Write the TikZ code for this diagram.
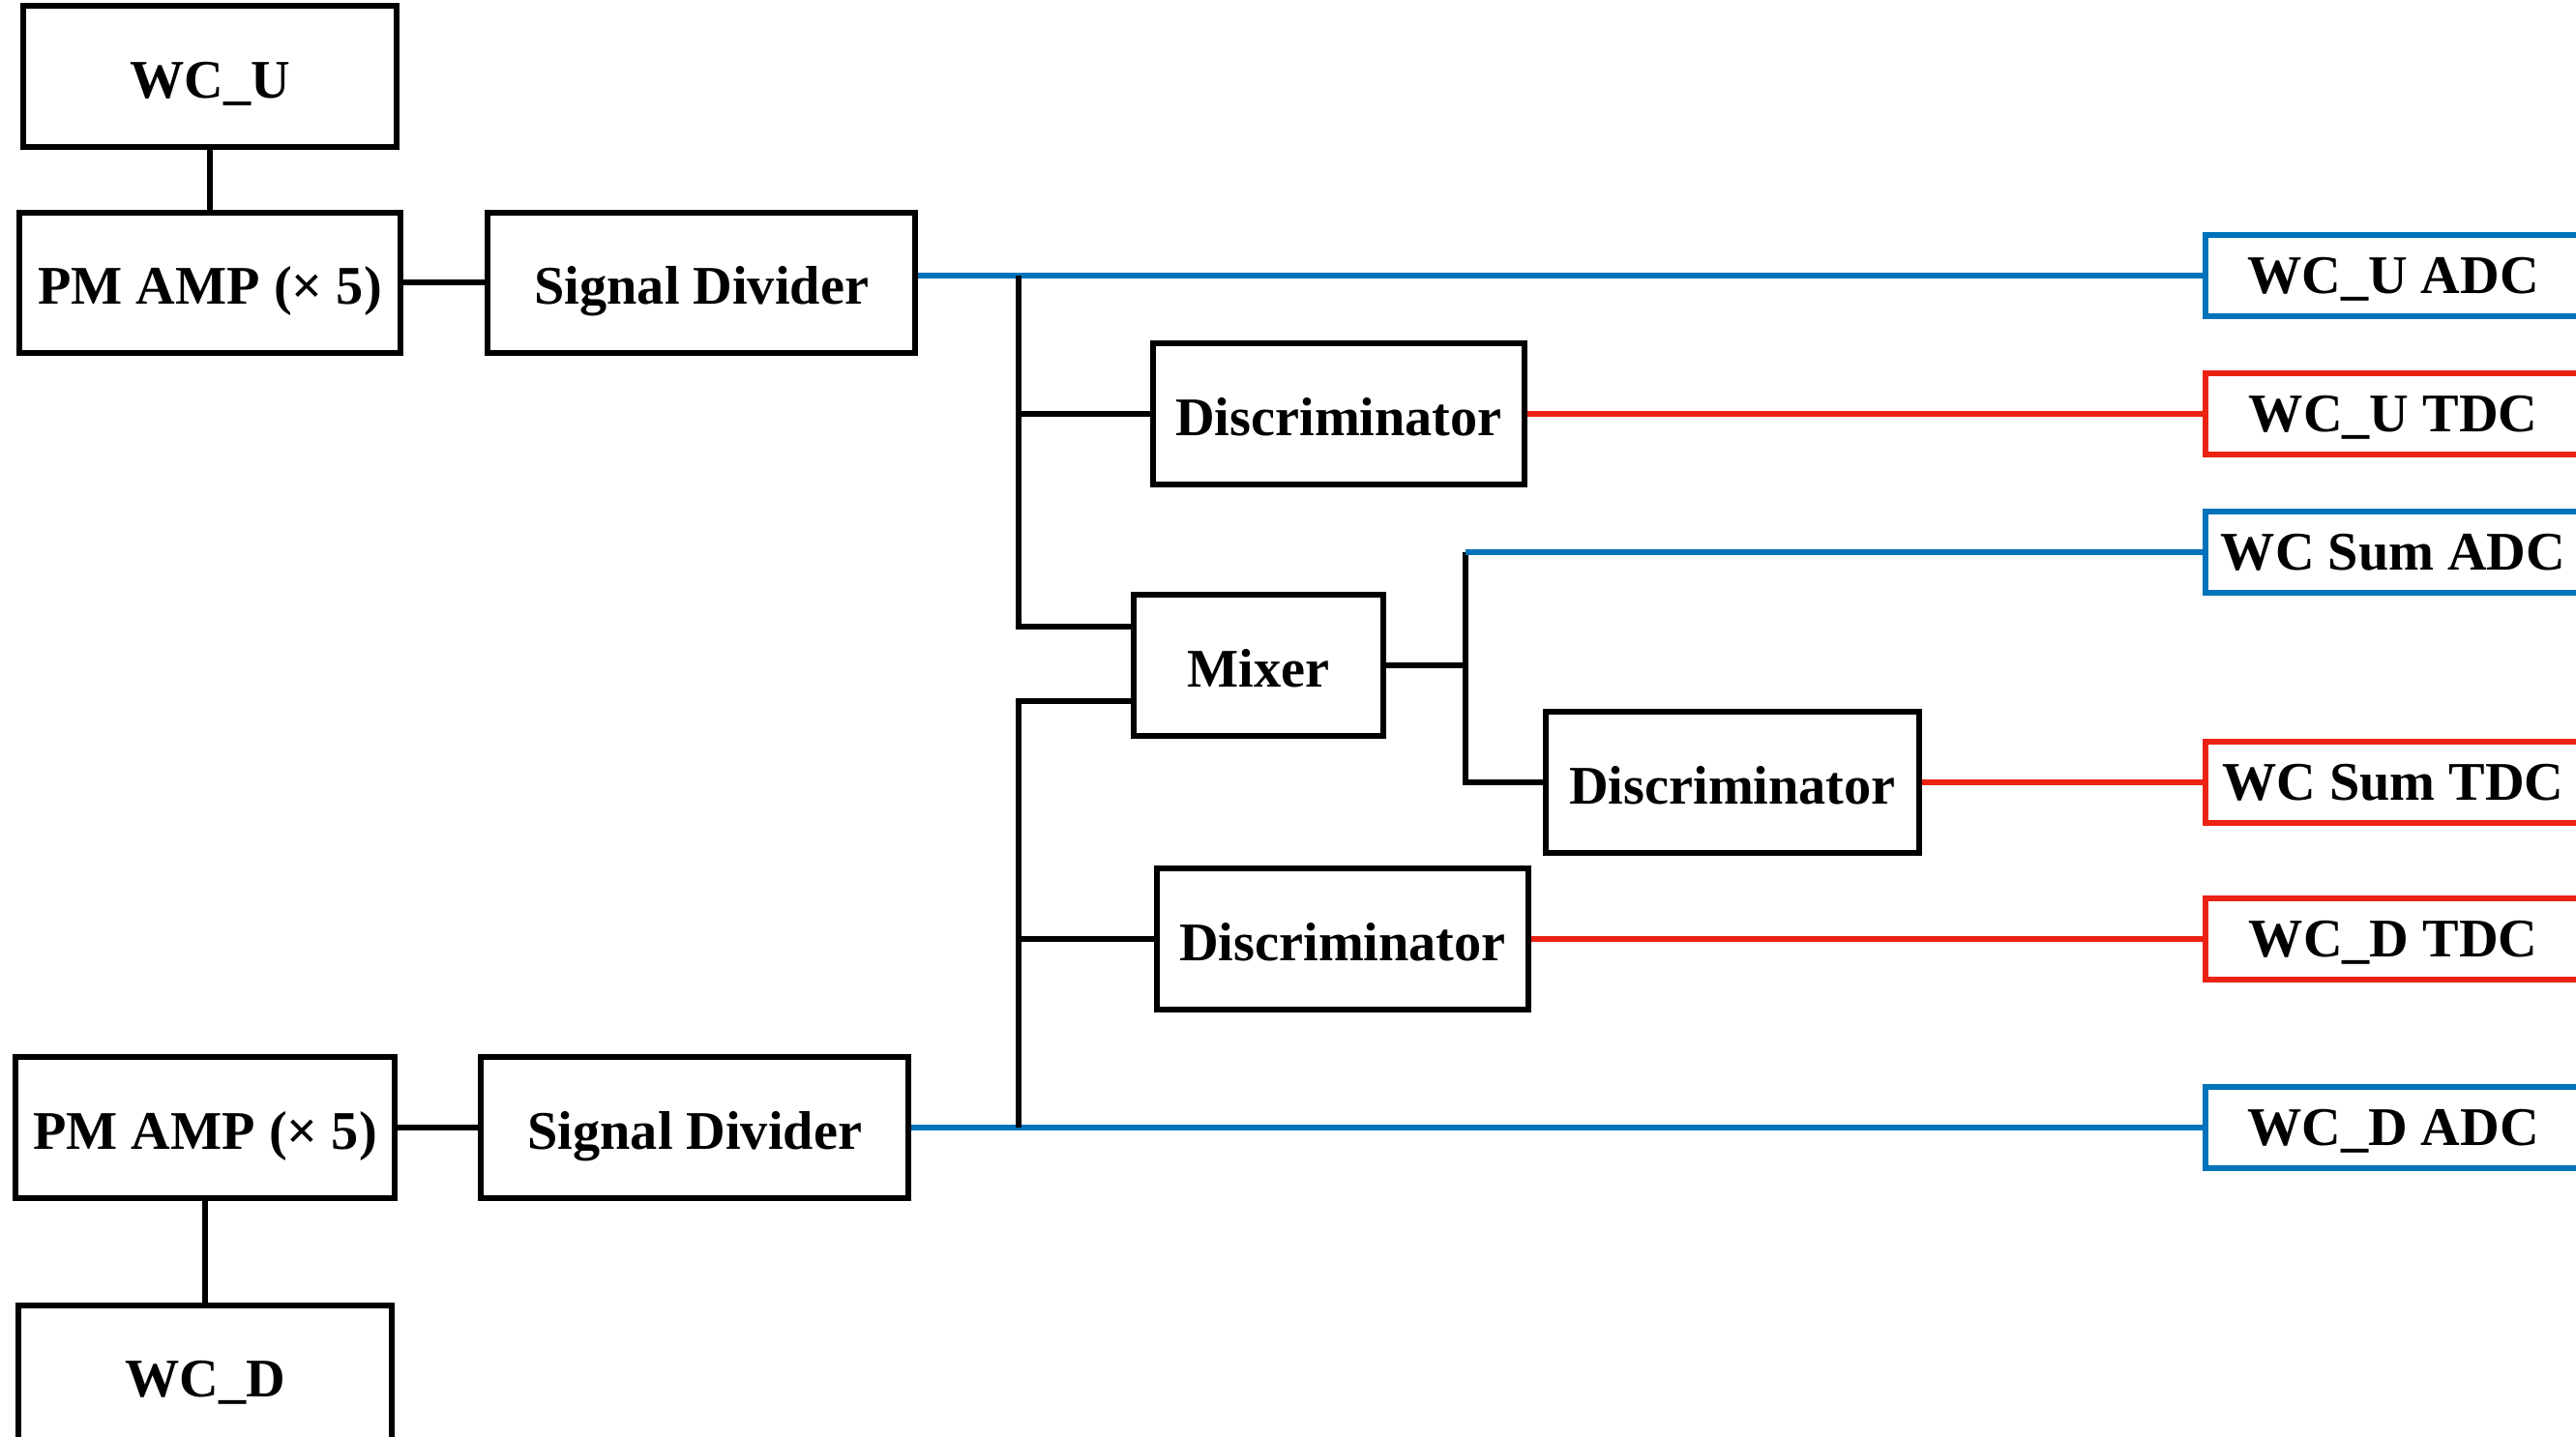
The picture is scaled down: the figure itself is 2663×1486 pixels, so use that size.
\documentclass[tikz,border=0pt]{standalone}
\usepackage{fontspec}
\setmainfont{Liberation Serif}
\usetikzlibrary{positioning}
\definecolor{wcblue}{RGB}{0,115,187}
\definecolor{wcred}{RGB}{236,34,20}

\begin{document}
\begin{tikzpicture}[x=0.01cm, y=-0.01cm,
    block/.style={draw=black, line width=1.7pt, inner sep=0pt, minimum width=3.85cm, minimum height=1.45cm, text height=12.6pt, text depth=0pt, font=\fontsize{16}{19}\selectfont\bfseries},
    divider/.style={block, minimum width=4.42cm},
    adcbox/.style={draw=wcblue, line width=1.7pt, inner sep=0pt, minimum width=3.88cm, minimum height=0.83cm, text height=10.8pt, text depth=0pt, font=\fontsize{16}{19}\selectfont\bfseries},
    tdcbox/.style={adcbox, draw=wcred},
    kline/.style={draw=black, line width=1.7pt},
    bline/.style={draw=wcblue, line width=1.7pt},
    rline/.style={draw=wcred, line width=1.7pt}]
    \useasboundingbox (0,0) rectangle (2663,1486);

    %Nodes
    \node[block](wcu) at (217,79) {WC\_U};
    \node[block, minimum width=3.94cm](pmu)[below=0.62cm of wcu]{PM AMP (× 5)};
    \node[divider](sdu)[right=0.84cm of pmu]{Signal Divider};
    \node[block, minimum width=3.92cm](pmd) at (212,1166) {PM AMP (× 5)};
    \node[block](wcd)[below=1.05cm of pmd]{WC\_D};
    \node[divider](sdd)[right=0.83cm of pmd]{Signal Divider};
    \node[block, minimum width=3.83cm](disc1) at (1384,428) {Discriminator};
    \node[block, minimum width=2.58cm](mixer) at (1301,688) {Mixer};
    \node[block](disc2) at (1791,809) {Discriminator};
    \node[block, minimum width=3.83cm](disc3) at (1388,971) {Discriminator};
    \node[adcbox](wcuadc) at (2474,285) {WC\_U ADC};
    \node[tdcbox](wcutdc) at (2474,428) {WC\_U TDC};
    \node[adcbox](sumadc) at (2474,571) {WC Sum ADC};
    \node[tdcbox](sumtdc) at (2474,809) {WC Sum TDC};
    \node[tdcbox](wcdtdc) at (2474,971) {WC\_D TDC};
    \node[adcbox](wcdadc) at (2474,1166) {WC\_D ADC};
    \coordinate (utop) at (1053,285);
    \coordinate (uin) at (1053,648);
    \coordinate (din) at (1053,725);
    \coordinate (dbot) at (1053,1166);
    \coordinate (sumtop) at (1515,571);

    %Lines
    \draw[kline] (wcu.south) -- (wcu.south |- pmu.north);
    \draw[kline] (pmu.east) -- (sdu.west);
    \draw[kline] (pmd.south) -- (wcd.north);
    \draw[kline] (pmd.east) -- (sdd.west);
    \draw[bline] (sdu.east |- wcuadc.west) -- (wcuadc.west);
    \draw[bline] (sdd.east |- wcdadc.west) -- (wcdadc.west);
    \draw[kline] (utop) -- (uin) -- (uin -| mixer.west);
    \draw[kline] (utop |- disc1.west) -- (disc1.west);
    \draw[kline] (din -| mixer.west) -- (din) -- (dbot);
    \draw[kline] (dbot |- disc3.west) -- (disc3.west);
    \draw[kline] (mixer.east) -- (mixer.east -| sumtop);
    \draw[kline] (sumtop) -- (sumtop |- disc2.west) -- (disc2.west);
    \draw[bline] (sumtop) -- (sumadc.west);
    \draw[rline] (disc1.east) -- (disc1.east -| wcutdc.west);
    \draw[rline] (disc2.east) -- (sumtdc.west);
    \draw[rline] (disc3.east) -- (disc3.east -| wcdtdc.west);

\end{tikzpicture}
\end{document}
